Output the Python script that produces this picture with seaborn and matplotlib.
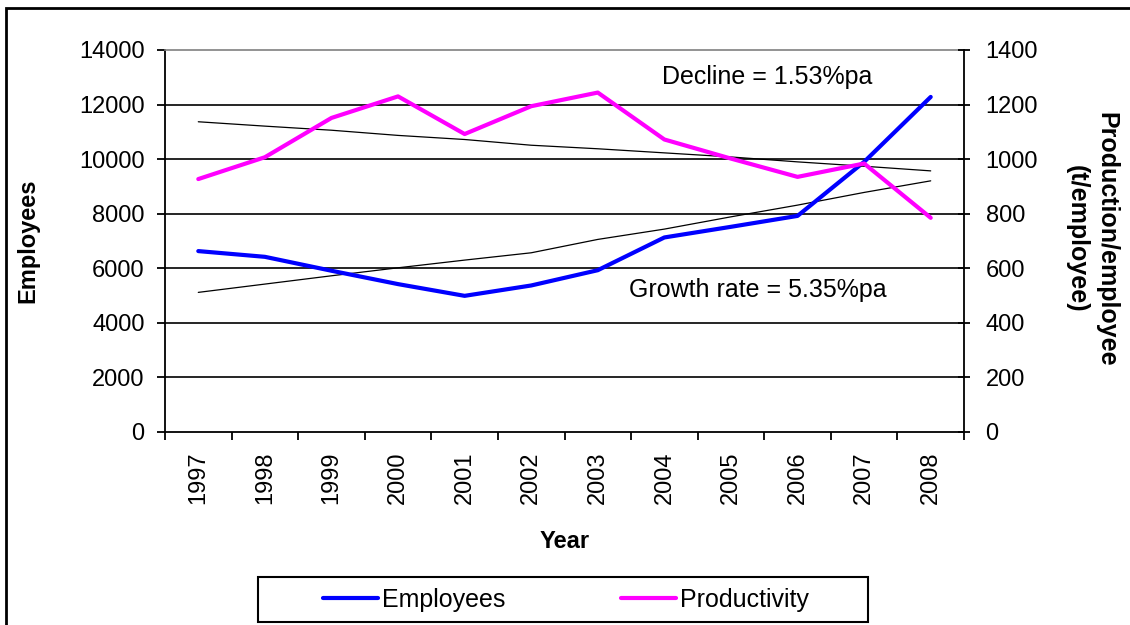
import matplotlib
matplotlib.use("Agg")
import matplotlib.pyplot as plt
from matplotlib.patches import Rectangle
from matplotlib.lines import Line2D
import seaborn as sns
import pandas as pd
import numpy as np

# ---- data ----
years = ["1997", "1998", "1999", "2000", "2001", "2002", "2003", "2004", "2005", "2006", "2007", "2008"]
employees = [6630, 6420, 5910, 5420, 4990, 5370, 5930, 7130, 7520, 7920, 9900, 12280]
productivity = [927, 1007, 1151, 1230, 1092, 1194, 1244, 1072, 1002, 935, 984, 785]
employees_trend = [5117, 5421, 5725, 6018, 6300, 6568, 7058, 7436, 7886, 8315, 8780, 9205]
productivity_trend = [1137, 1121, 1106, 1087, 1072, 1051, 1038, 1023, 1008, 990, 974, 957]
left_ticks = [0, 2000, 4000, 6000, 8000, 10000, 12000, 14000]
right_ticks = [0, 200, 400, 600, 800, 1000, 1200, 1400]

df = pd.DataFrame({
    "pos": np.arange(len(years)),
    "year": years,
    "Employees": employees,
    "Productivity": productivity,
    "emp_trend": employees_trend,
    "prod_trend": productivity_trend,
})

sns.set_style("white")
plt.rcParams["font.family"] = ["Liberation Sans", "DejaVu Sans"]
plt.rcParams["text.color"] = "black"
plt.rcParams["axes.labelcolor"] = "black"
plt.rcParams["xtick.color"] = "black"
plt.rcParams["ytick.color"] = "black"
FS = 17

W, H = 1130, 625
fig = plt.figure(figsize=(W / 100, H / 100), dpi=100)
ax = fig.add_axes([165 / W, 1 - 432 / H, (964 - 165) / W, (432 - 50) / H])
ax2 = ax.twinx()

ax.set_ylim(0, 14000)
ax2.set_ylim(0, 1400)
ax.set_xlim(-0.5, len(years) - 0.5)
for v in left_ticks[1:-1]:
    ax.axhline(v, color="black", lw=1.2, zorder=0)

# trend lines
sns.lineplot(data=df, x="pos", y="emp_trend", ax=ax, color="black", lw=0.9, zorder=2, legend=False)
sns.lineplot(data=df, x="pos", y="prod_trend", ax=ax2, color="black", lw=0.9, zorder=2, legend=False)
# main series
sns.lineplot(data=df, x="pos", y="Employees", ax=ax, color="#0000FF", lw=3, zorder=3, legend=False)
sns.lineplot(data=df, x="pos", y="Productivity", ax=ax2, color="#FF00FF", lw=3, zorder=3, legend=False)

ax.set_xlim(-0.5, len(years) - 0.5)
ax.set_ylim(0, 14000)
ax2.set_ylim(0, 1400)

for a in (ax, ax2):
    for s in a.spines.values():
        s.set_visible(False)
ax.spines["left"].set_visible(True)
ax.spines["left"].set_color("black")
ax.spines["left"].set_linewidth(1.3)
ax.spines["bottom"].set_visible(True)
ax.spines["bottom"].set_color("black")
ax.spines["bottom"].set_linewidth(1.3)
ax.spines["top"].set_visible(True)
ax.spines["top"].set_color("#808080")
ax.spines["top"].set_linewidth(1.2)
ax2.spines["right"].set_visible(True)
ax2.spines["right"].set_color("black")
ax2.spines["right"].set_linewidth(1.3)

ax.set_yticks(left_ticks)
ax.set_yticklabels([str(v) for v in left_ticks], fontsize=FS)
ax.tick_params(axis="y", direction="out", length=6, width=1.3, pad=8.6, colors="black", left=True)
ax2.set_yticks(right_ticks)
ax2.set_yticklabels([str(v) for v in right_ticks], fontsize=FS)
ax2.tick_params(axis="y", direction="inout", length=9, width=1.3, pad=11, colors="black", right=True)

ax.set_xticks(df["pos"])
ax.set_xticklabels(years, rotation=90, fontsize=FS)
ax.set_xticks(np.arange(-0.5, len(years)), minor=True)
ax.tick_params(axis="x", which="major", length=0, pad=14, colors="black")
ax.tick_params(axis="x", which="minor", direction="out", length=6, width=1.3, bottom=True, colors="black")

ax.set_xlabel("")
ax.set_ylabel("")
ax2.set_ylabel("")

fig.text(28 / W, 1 - 241 / H, "Employees", rotation=90, ha="center", va="center",
         fontsize=FS, fontweight="bold", color="black")
fig.text(1092 / W, 1 - 239 / H, "Production/employee\n(t/employee)", rotation=270,
         ha="center", va="center", fontsize=18, fontweight="bold", linespacing=1.3, color="black")
fig.text(565 / W, 1 - 542 / H, "Year", ha="center", va="center", fontsize=FS, fontweight="bold",
         color="black")

ax.text((767 - 165) / 799, 13000, "Decline = 1.53%pa", transform=ax.get_yaxis_transform(),
        ha="center", va="center", fontsize=18, color="black")
ax.text((758 - 165) / 799, 5200, "Growth rate = 5.35%pa", transform=ax.get_yaxis_transform(),
        ha="center", va="center", fontsize=18, color="black")

# legend
fig.patches.append(Rectangle((258 / W, 1 - 622 / H), 610 / W, 45 / H, transform=fig.transFigure,
                             fill=False, edgecolor="black", lw=1.5))
handles = [Line2D([], [], color="#0000FF", lw=3), Line2D([], [], color="#FF00FF", lw=3)]
leg = fig.legend(handles, ["Employees", "Productivity"], loc="center", bbox_to_anchor=(566 / W, 1 - 600 / H),
                 ncol=2, frameon=False, fontsize=18, handlelength=2.2, handletextpad=0.17,
                 columnspacing=4.6)
for t in leg.get_texts():
    t.set_color("black")

# outer chart border
fig.patches.append(Rectangle((6 / W, -20 / H), 1200 / W, (625 - 8 + 20) / H, transform=fig.transFigure,
                             fill=False, edgecolor="black", lw=2, clip_on=False))

fig.savefig("out.png", dpi=100, facecolor="white")
